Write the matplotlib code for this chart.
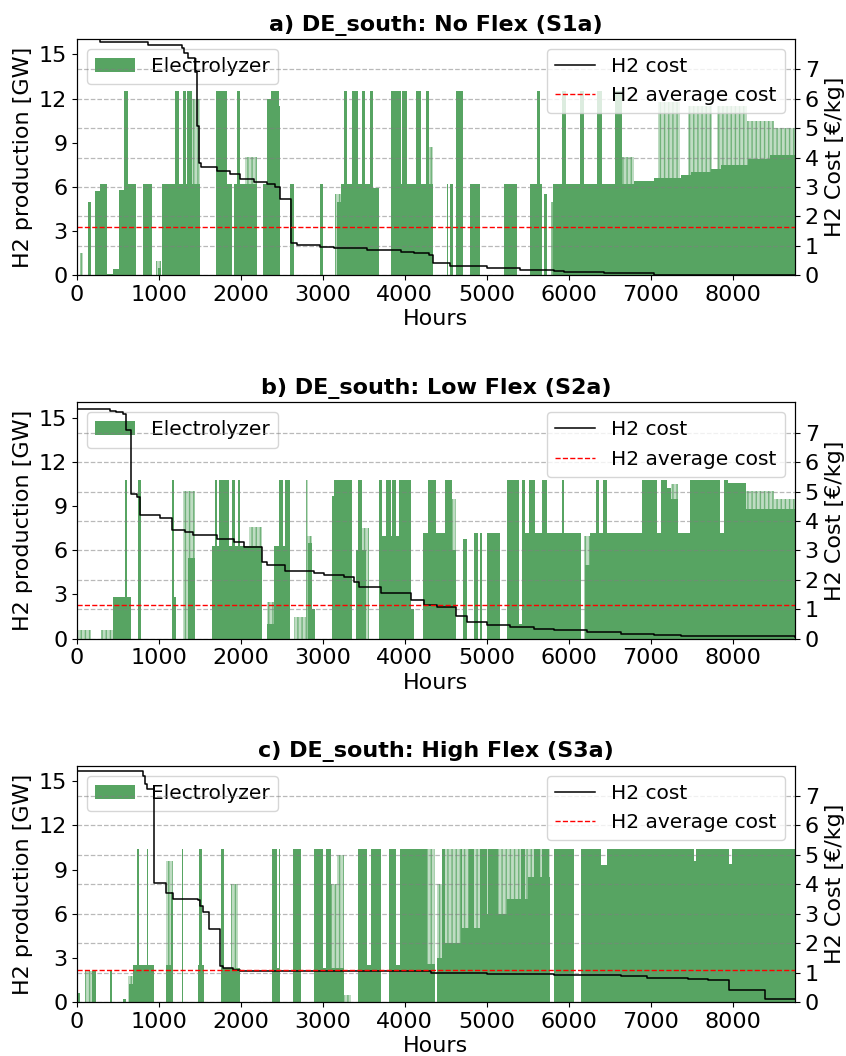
import numpy as np
import matplotlib
matplotlib.use("Agg")
import matplotlib.pyplot as plt

# ---- data ---------------------------------------------------------------
# electrolyzer output blocks: (start hour, end hour, GW)
ELY_A = [(135, 170, 5.0), (225, 280, 5.7), (280, 367, 6.2), (367, 440, 0.1),
         (440, 510, 0.4), (510, 570, 5.8), (570, 625, 12.5), (625, 718, 6.2),
         (800, 918, 6.2), (990, 1030, 0.5), (1033, 1196, 6.2), (1196, 1249, 12.5),
         (1249, 1298, 6.2), (1298, 1327, 12.5), (1327, 1339, 6.2), (1339, 1400, 12.5),
         (1400, 1502, 6.2), (1698, 1829, 12.5), (1829, 1890, 6.2), (1910, 1950, 6.2),
         (1950, 1984, 12.5), (1984, 2196, 6.2), (2269, 2318, 6.2), (2318, 2367, 12.0),
         (2367, 2461, 12.5), (2461, 2482, 11.5), (2596, 2645, 6.2), (2971, 3004, 6.2),
         (3170, 3224, 5.0), (3224, 3257, 6.2), (3257, 3298, 12.5), (3298, 3359, 6.2),
         (3359, 3433, 12.5), (3433, 3482, 6.2), (3482, 3510, 12.5), (3510, 3576, 6.2),
         (3576, 3616, 12.5), (3616, 3686, 5.9), (3829, 3951, 12.5), (3951, 3971, 6.2),
         (3971, 4024, 12.5), (4024, 4135, 6.2), (4135, 4196, 12.5), (4196, 4257, 6.2),
         (4257, 4298, 12.5), (4298, 4347, 6.2), (4510, 4530, 6.2), (4550, 4590, 6.2),
         (4620, 4706, 12.5), (4796, 4918, 6.2), (5212, 5367, 6.2), (5522, 5612, 6.2),
         (5612, 5645, 12.5), (5645, 5673, 6.2), (5702, 5735, 5.5), (5808, 5918, 6.2),
         (5918, 5971, 12.5), (5971, 6143, 6.2), (6143, 6184, 12.5), (6184, 6339, 6.2),
         (6339, 6408, 12.5), (6408, 6559, 6.2), (6559, 6653, 12.5), (6653, 6796, 6.2),
         (6796, 7041, 6.4), (7041, 7367, 6.6), (7367, 7490, 6.8), (7490, 7735, 7.0),
         (7735, 7857, 7.2), (7857, 8184, 7.5), (8184, 8450, 7.9), (8450, 8760, 8.2)]
# partly-on (flickering) stretches: (start hour, end hour, top GW)
FUZZ_A = [(40, 70, 1.5), (970, 1030, 1.0), (1400, 1502, 12.0), (2053, 2196, 8.0),
          (3150, 3224, 5.5), (4298, 4347, 8.7), (5780, 5808, 5.0), (6653, 6796, 8.0),
          (7090, 7360, 11.8), (7460, 7750, 11.5), (7810, 8175, 11.5),
          (8175, 8500, 10.5), (8500, 8760, 10.0)]

ELY_B = [(441, 584, 2.8), (584, 612, 10.8), (612, 653, 2.8), (739, 776, 10.8),
         (1165, 1180, 10.8), (1176, 1204, 2.8), (1350, 1441, 5.5), (1645, 1686, 6.3),
         (1686, 1706, 10.8), (1706, 1727, 6.3), (1727, 1849, 10.8), (1849, 1890, 6.3),
         (1890, 1931, 10.8), (1931, 1959, 6.3), (1959, 1984, 10.8), (1984, 2257, 6.3),
         (2318, 2408, 1.0), (2350, 2360, 6.5), (2408, 2465, 6.3), (2465, 2510, 10.8),
         (2510, 2540, 6.3), (2540, 2596, 10.8), (2820, 2869, 6.5), (2869, 2910, 2.0),
         (3114, 3135, 9.7), (3135, 3359, 10.8), (3400, 3429, 6.0), (3429, 3482, 10.8),
         (3482, 3530, 6.0), (3686, 3718, 10.8), (3718, 3767, 7.0), (3767, 3829, 10.8),
         (3829, 3849, 7.0), (3849, 3890, 10.8), (3890, 3931, 7.0), (3931, 4073, 10.8),
         (4073, 4114, 2.0), (4216, 4286, 7.2), (4286, 4380, 10.8), (4380, 4490, 7.2),
         (4490, 4571, 10.8), (4571, 4624, 6.0), (4714, 4755, 6.8), (4845, 4898, 7.2),
         (4918, 4947, 7.2), (5000, 5163, 7.2), (5245, 5388, 10.8), (5388, 5429, 1.0),
         (5429, 5470, 10.8), (5470, 5510, 7.2), (5510, 5592, 10.8), (5592, 5673, 7.2),
         (5673, 5735, 10.8), (5735, 5918, 7.2), (5918, 5939, 10.8), (5939, 6155, 7.2),
         (6200, 6265, 5.0), (6265, 6327, 7.2), (6327, 6367, 10.8), (6367, 6420, 7.2),
         (6420, 6469, 10.8), (6469, 6898, 7.2), (6898, 7073, 10.8), (7073, 7131, 7.2),
         (7131, 7196, 10.8), (7196, 7245, 10.2), (7245, 7335, 9.5), (7335, 7482, 7.2),
         (7482, 7849, 10.8), (7849, 7898, 7.2), (7898, 7939, 10.8), (7939, 8163, 10.6),
         (8163, 8760, 8.8)]
FUZZ_B = [(12, 175, 0.6), (298, 441, 0.6), (1298, 1441, 10.0), (2100, 2257, 7.6),
          (2318, 2408, 2.5), (2645, 2788, 1.5), (2800, 2815, 10.8), (2808, 2869, 7.0),
          (3482, 3563, 7.5), (4571, 4624, 9.5), (6184, 6265, 7.0), (7245, 7335, 10.5),
          (8163, 8500, 10.0), (8500, 8760, 9.5)]

ELY_C = [(12, 33, 0.6), (188, 237, 2.1), (400, 433, 2.1), (560, 600, 0.2),
         (640, 686, 1.2), (686, 727, 2.5), (727, 759, 10.4), (759, 849, 2.5),
         (849, 869, 10.4), (869, 939, 2.5), (1082, 1176, 2.5), (1150, 1176, 7.5),
         (1278, 1298, 10.4), (1482, 1550, 2.5), (1490, 1530, 10.4), (1755, 1796, 10.4),
         (1796, 1984, 2.3), (2380, 2441, 10.4), (2441, 2470, 2.3), (2470, 2480, 10.4),
         (2637, 2727, 10.4), (2890, 3004, 10.4), (3004, 3033, 2.3), (3033, 3094, 10.4),
         (3094, 3257, 2.3), (3429, 3535, 10.4), (3535, 3584, 2.5), (3584, 3714, 10.4),
         (3812, 3894, 10.4), (3894, 3943, 2.5), (3943, 4269, 10.4), (4269, 4367, 2.6),
         (4396, 4457, 3.0), (4457, 4490, 10.4), (4490, 4700, 4.0), (4700, 4950, 5.0),
         (4950, 5250, 6.0), (5250, 5500, 7.0), (5500, 5776, 8.5), (4680, 4700, 10.4),
         (4780, 4840, 10.4), (4920, 5000, 10.4), (5020, 5140, 10.4), (5420, 5470, 10.4),
         (5580, 5650, 10.4), (5670, 5760, 10.4), (5816, 6069, 10.4), (6151, 6388, 10.4),
         (6388, 6469, 9.3), (6469, 7530, 10.4), (7530, 7555, 9.6), (7555, 7960, 10.4),
         (7960, 7990, 9.4), (7990, 8760, 10.4)]
FUZZ_C = [(94, 237, 2.1), (624, 686, 1.8), (1082, 1176, 9.6), (1880, 1960, 8.0),
          (3094, 3176, 8.0), (3176, 3257, 10.0), (3257, 3339, 0.5), (4269, 4367, 10.4),
          (4396, 4457, 8.0), (4490, 5776, 10.4)]

# H2 cost duration curve: hour where each step starts, EUR/kg
COST_H_A = [0, 278, 870, 1278, 1310, 1360, 1440, 1461, 1490, 1510, 1706, 1869, 1992,
            2155, 2318, 2420, 2473, 2605, 2680, 2971, 3135, 3543, 3951, 4114, 4300,
            4347, 4551, 5000, 5408, 5816, 5939, 6429, 7041, 8760]
COST_A = [8.02, 7.92, 7.84, 7.72, 7.55, 7.40, 6.90, 5.06, 3.82, 3.68, 3.53, 3.43, 3.28,
          3.17, 3.11, 3.00, 2.60, 1.08, 1.02, 0.96, 0.92, 0.85, 0.80, 0.74, 0.68,
          0.40, 0.31, 0.25, 0.19, 0.15, 0.11, 0.06, 0.02, 0.02]
COST_H_B = [0, 400, 470, 560, 604, 653, 735, 767, 1012, 1155, 1318, 1420, 1706, 1910,
            2033, 2257, 2318, 2543, 2890, 3012, 3257, 3380, 3441, 3706, 4073, 4237,
            4388, 4624, 4755, 5000, 5286, 5571, 5816, 6224, 6633, 7041, 7367, 8760]
COST_B = [7.81, 7.74, 7.70, 7.64, 7.08, 4.93, 4.82, 4.20, 4.09, 3.69, 3.64, 3.52, 3.40,
          3.30, 3.10, 2.62, 2.51, 2.31, 2.22, 2.17, 2.10, 1.94, 1.74, 1.55, 1.32, 1.15,
          1.07, 0.78, 0.56, 0.45, 0.40, 0.33, 0.28, 0.23, 0.17, 0.14, 0.08, 0.06]
COST_H_C = [0, 808, 830, 849, 939, 1082, 1176, 1482, 1500, 1543, 1616, 1739, 1750,
            1780, 1902, 1992, 4318, 5000, 5816, 6633, 6959, 7449, 7694, 7959, 8396, 8760]
COST_C = [7.86, 7.67, 7.40, 7.24, 4.04, 3.70, 3.51, 3.48, 3.25, 3.06, 2.48, 1.60, 1.21,
          1.16, 1.10, 1.04, 0.985, 0.96, 0.93, 0.87, 0.82, 0.79, 0.76, 0.42, 0.11, 0.11]

AVG_COST = [1.63, 1.13, 1.08]
TITLES = ["a) DE_south: No Flex (S1a)", "b) DE_south: Low Flex (S2a)",
          "c) DE_south: High Flex (S3a)"]

GREEN = "#57a462"
FS = 16
FS_LEG = 14.5
plt.rcParams["hatch.linewidth"] = 1.0


def draw_blocks(ax, blocks, alpha, label=None, hatch=None):
    starts = [b[0] for b in blocks]
    widths = [b[1] - b[0] for b in blocks]
    heights = [b[2] for b in blocks]
    ax.bar(starts, heights, width=widths, align="edge", color=GREEN,
           alpha=alpha, linewidth=0, label=label)
    if hatch:
        # thin vertical strokes stand in for the hour-by-hour flicker
        ax.bar(starts, heights, width=widths, align="edge", facecolor="none",
               edgecolor=GREEN, hatch=hatch, linewidth=0, alpha=0.75)


def panel(ax, ely, fuzz, cost_h, cost, avg, title):
    draw_blocks(ax, fuzz, 0.38, hatch="||||")
    draw_blocks(ax, ely, 1.0, label="Electrolyzer")
    ax.set_xlim(0, 8760)
    ax.set_ylim(0, 16.05)
    ax.set_yticks(range(0, 16, 3))
    ax.set_xticks(range(0, 8001, 1000))
    ax.set_xlabel("Hours", fontsize=FS, labelpad=3)
    ax.set_ylabel("H2 production [GW]", fontsize=FS)
    ax.tick_params(labelsize=FS)
    ax.set_title(title, fontsize=FS, fontweight="bold")
    ax.legend(loc="upper left", fontsize=FS_LEG)

    ax2 = ax.twinx()
    ax2.step(cost_h, cost, where="post", color="black", lw=1.1, label="H2 cost")
    ax2.axhline(avg, color="red", ls="--", lw=1.0, label="H2 average cost")
    ax2.set_ylim(0, 8.03)
    ax2.set_yticks(range(0, 8))
    ax2.set_ylabel("H2 Cost [€/kg]", fontsize=FS)
    ax2.tick_params(labelsize=FS)
    ax2.grid(axis="y", ls="--", color="gray", alpha=0.55, lw=0.9)
    ax2.legend(loc="upper right", fontsize=FS_LEG)


fig, axes = plt.subplots(3, 1, figsize=(8.46, 10.56), dpi=100)
fig.subplots_adjust(left=0.091, right=0.9397, bottom=0.0511, top=0.9631, hspace=0.538)

panel(axes[0], ELY_A, FUZZ_A, COST_H_A, COST_A, AVG_COST[0], TITLES[0])
panel(axes[1], ELY_B, FUZZ_B, COST_H_B, COST_B, AVG_COST[1], TITLES[1])
panel(axes[2], ELY_C, FUZZ_C, COST_H_C, COST_C, AVG_COST[2], TITLES[2])

fig.savefig("out.png", dpi=100)
